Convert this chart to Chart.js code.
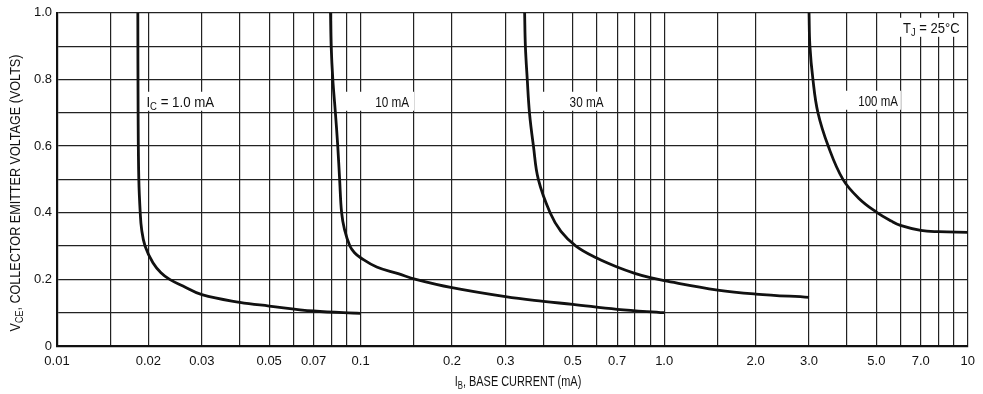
<!DOCTYPE html>
<html>
<head>
<meta charset="utf-8">
<script src="https://cdn.jsdelivr.net/npm/chart.js@4.4.1/dist/chart.umd.min.js"></script>
<style>
  body { margin: 0; background: #fff; }
  canvas { display: block; }
</style>
</head>
<body>
<canvas id="chart" width="983" height="394"></canvas>
<script>
// Curve data: IB in mA, VCE in volts
const ic1mA_ib  = [0.01846, 0.0185, 0.0186, 0.0188, 0.019, 0.0195, 0.0207, 0.022, 0.0235, 0.026, 0.03, 0.04, 0.05, 0.07, 0.1];
const ic1mA_vce = [1.0, 0.7, 0.5, 0.4, 0.35, 0.3, 0.25, 0.22, 0.2, 0.18, 0.154, 0.131, 0.12, 0.105, 0.098];

const ic10mA_ib  = [0.0796, 0.08, 0.081, 0.0826, 0.0841, 0.0853, 0.0866, 0.0885, 0.0922, 0.0955, 0.1, 0.113, 0.133, 0.152, 0.2, 0.3, 0.4, 0.5, 0.7, 1.0];
const ic10mA_vce = [1.0, 0.9, 0.8, 0.7, 0.6, 0.5, 0.4, 0.35, 0.3, 0.28, 0.265, 0.237, 0.217, 0.2, 0.175, 0.148, 0.134, 0.125, 0.11, 0.1];

const ic30mA_ib  = [0.347, 0.349, 0.354, 0.36, 0.371, 0.385, 0.421, 0.457, 0.512, 0.6, 0.7, 0.8, 0.9, 1.0, 1.5, 2.0, 3.0];
const ic30mA_vce = [1.0, 0.9, 0.8, 0.7, 0.6, 0.5, 0.4, 0.344, 0.3, 0.264, 0.237, 0.218, 0.205, 0.196, 0.168, 0.156, 0.146];

const ic100mA_ib  = [3.0, 3.02, 3.09, 3.21, 3.47, 3.88, 4.38, 5.0, 5.6, 6.0, 7.0, 8.0, 10];
const ic100mA_vce = [1.0, 0.9, 0.8, 0.7, 0.6, 0.5, 0.443, 0.402, 0.375, 0.362, 0.347, 0.343, 0.341];

// Axis ticks
const xGridValues = [0.01, 0.015, 0.02, 0.03, 0.04, 0.05, 0.06, 0.07, 0.08, 0.09,
                     0.1, 0.15, 0.2, 0.3, 0.4, 0.5, 0.6, 0.7, 0.8, 0.9,
                     1, 1.5, 2, 3, 4, 5, 6, 7, 8, 9, 10];
const xTickValues = [0.01, 0.02, 0.03, 0.05, 0.07, 0.1, 0.2, 0.3, 0.5, 0.7, 1, 2, 3, 5, 7, 10];
const xTickLabels = ['0.01', '0.02', '0.03', '0.05', '0.07', '0.1', '0.2', '0.3', '0.5', '0.7', '1.0', '2.0', '3.0', '5.0', '7.0', '10'];
const yGridValues = [0, 0.1, 0.2, 0.3, 0.4, 0.5, 0.6, 0.7, 0.8, 0.9, 1.0];
const yTickValues = [0, 0.2, 0.4, 0.6, 0.8, 1.0];
const yTickLabels = ['0', '0.2', '0.4', '0.6', '0.8', '1.0'];

const FONT = '"Liberation Sans", Arial, sans-serif';

function pts(xs, ys) {
    return xs.map((x, i) => ({ x: x, y: ys[i] }));
}

function lookup(values, labels, v) {
    const i = values.findIndex(t => Math.abs(t - v) < 1e-9);
    return i >= 0 ? labels[i] : '';
}

// Text with subscripts; sx squeezes it sideways to look like the narrow original face
function richWidth(ctx, parts, sx) {
    let w = 0;
    parts.forEach(p => {
        ctx.font = p.sub ? '10px ' + FONT : '14px ' + FONT;
        w += ctx.measureText(p.t).width;
    });
    return w * sx;
}
function drawRich(ctx, parts, x, y, sx) {
    ctx.save();
    ctx.translate(x, y);
    ctx.scale(sx, 1);
    ctx.textBaseline = 'alphabetic';
    ctx.textAlign = 'left';
    let cx = 0;
    parts.forEach(p => {
        ctx.font = p.sub ? '10px ' + FONT : '14px ' + FONT;
        ctx.fillText(p.t, cx, p.sub ? 3 : 0);
        cx += ctx.measureText(p.t).width;
    });
    ctx.restore();
}

// Curve labels: anchor in data units, white patch margins in px
const curveLabels = [
    { x: 0.0197, y: 0.733, pad: [2, 3],  sx: 0.95, parts: [{ t: 'I' }, { t: 'C', sub: true }, { t: ' = 1.0 mA' }] },
    { x: 0.1117, y: 0.733, pad: [32, 5], sx: 0.84, parts: [{ t: '10 mA' }] },
    { x: 0.488,  y: 0.733, pad: [29, 5], sx: 0.84, parts: [{ t: '30 mA' }] },
    { x: 4.36,   y: 0.736, pad: [14, 3], sx: 0.82, parts: [{ t: '100 mA' }] },
    { x: 6.12,   y: 0.955, pad: [6, 3],  sx: 0.93, parts: [{ t: 'T' }, { t: 'J', sub: true }, { t: ' = 25\u00B0C' }] }
];

const labelPlugin = {
    id: 'labels',
    beforeDatasetsDraw(chart) {
        const ctx = chart.ctx;
        const xs = chart.scales.x, ys = chart.scales.y;
        ctx.save();
        curveLabels.forEach(l => {
            const px = xs.getPixelForValue(l.x);
            const py = ys.getPixelForValue(l.y);
            const w = richWidth(ctx, l.parts, l.sx);
            ctx.fillStyle = '#fff';
            ctx.fillRect(px - l.pad[0], py - 10, w + l.pad[0] + l.pad[1], 19);
            ctx.fillStyle = '#111';
            drawRich(ctx, l.parts, px, py + 5, l.sx);
        });
        ctx.restore();
    },
    afterDraw(chart) {
        const ctx = chart.ctx;
        ctx.save();
        ctx.fillStyle = '#111';
        // x axis title
        const xt = [{ t: 'I' }, { t: 'B', sub: true }, { t: ', BASE CURRENT (mA)' }];
        drawRich(ctx, xt, 518 - richWidth(ctx, xt, 0.78) / 2, 386, 0.78);
        // y axis title
        const yt = [{ t: 'V' }, { t: 'CE', sub: true }, { t: ', COLLECTOR EMITTER VOLTAGE (VOLTS)' }];
        ctx.translate(20, 193);
        ctx.rotate(-Math.PI / 2);
        drawRich(ctx, yt, -richWidth(ctx, yt, 0.9) / 2, 0, 0.9);
        ctx.restore();
    }
};

const lineStyle = {
    borderColor: '#111',
    borderWidth: 2.8,
    pointRadius: 0,
    fill: false,
    tension: 0.4
};

new Chart(document.getElementById('chart'), {
    type: 'line',
    data: {
        datasets: [
            Object.assign({ label: 'IC = 1.0 mA', data: pts(ic1mA_ib, ic1mA_vce) }, lineStyle),
            Object.assign({ label: '10 mA', data: pts(ic10mA_ib, ic10mA_vce) }, lineStyle),
            Object.assign({ label: '30 mA', data: pts(ic30mA_ib, ic30mA_vce) }, lineStyle),
            Object.assign({ label: '100 mA', data: pts(ic100mA_ib, ic100mA_vce) }, lineStyle)
        ]
    },
    options: {
        responsive: false,
        animation: false,
        devicePixelRatio: 1,
        layout: { padding: { top: 9, right: 11, left: 0, bottom: 0 } },
        plugins: {
            legend: { display: false },
            tooltip: { enabled: false }
        },
        scales: {
            x: {
                type: 'logarithmic',
                min: 0.01,
                max: 10,
                afterBuildTicks: s => { s.ticks = xGridValues.map(v => ({ value: v })); },
                afterFit: s => { s.height = 48; },
                grid: { color: '#222', lineWidth: 1.2, drawTicks: false },
                border: { color: '#111', width: 2.2 },
                ticks: {
                    autoSkip: false,
                    maxRotation: 0,
                    padding: 8,
                    color: '#111',
                    font: { family: FONT, size: 13 },
                    callback: v => lookup(xTickValues, xTickLabels, v)
                }
            },
            y: {
                min: 0,
                max: 1,
                afterBuildTicks: s => { s.ticks = yGridValues.map(v => ({ value: v })); },
                afterFit: s => { s.width = 57; },
                grid: { color: '#222', lineWidth: 1.2, drawTicks: false },
                border: { color: '#111', width: 2.2 },
                ticks: {
                    autoSkip: false,
                    padding: 5,
                    color: '#111',
                    font: { family: FONT, size: 13 },
                    callback: v => lookup(yTickValues, yTickLabels, v)
                }
            }
        }
    },
    plugins: [labelPlugin]
});
</script>
</body>
</html>
